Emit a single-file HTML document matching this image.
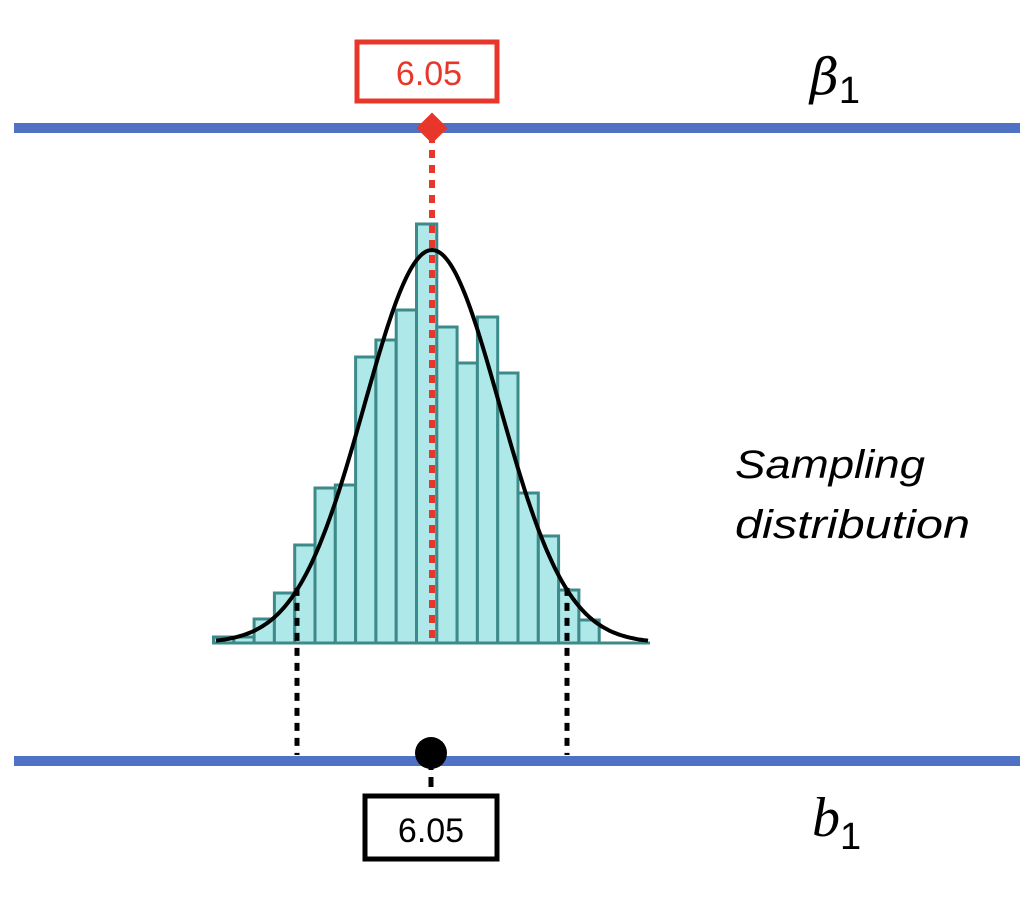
<!DOCTYPE html>
<html><head><meta charset="utf-8"><style>
html,body{margin:0;padding:0;background:#fff;}
svg{display:block;}
</style></head><body>
<svg id="chart" width="1030" height="904" viewBox="0 0 1030 904" xmlns="http://www.w3.org/2000/svg">
  <rect width="1030" height="904" fill="#fff"/>
  <line x1="14" y1="128" x2="1020" y2="128" stroke="#4f72c4" stroke-width="10"/>
  <line x1="14" y1="761" x2="1020" y2="761" stroke="#4f72c4" stroke-width="10"/>
  <g id="bars"></g>
  <path id="curve" fill="none" stroke="#000" stroke-width="4"/>
  <g id="marks"></g>
  <rect x="357" y="42" width="140" height="59" fill="#fff" stroke="#e8372a" stroke-width="5"/>
  <text x="429" y="85" text-anchor="middle" font-family="Liberation Sans, sans-serif" font-size="34" fill="#e8372a">6.05</text>
  <rect x="365" y="796" width="132" height="63" fill="#fff" stroke="#000" stroke-width="5"/>
  <text x="431" y="842" text-anchor="middle" font-family="Liberation Sans, sans-serif" font-size="34" fill="#000">6.05</text>
  <text x="810" y="94" font-family="DejaVu Serif, Liberation Serif, serif" font-style="italic" font-size="50" fill="#000">β<tspan font-style="normal" font-family="Liberation Sans, sans-serif" font-size="38" dy="9">1</tspan></text>
  <text x="812" y="836" font-family="Liberation Serif, serif" font-style="italic" font-size="56" fill="#000">b<tspan font-style="normal" font-family="Liberation Sans, sans-serif" font-size="38" dy="13">1</tspan></text>
  <text x="735" y="478" font-family="Liberation Sans, sans-serif" font-style="italic" font-size="40" textLength="190" lengthAdjust="spacingAndGlyphs">Sampling</text>
  <text x="735" y="538" font-family="Liberation Sans, sans-serif" font-style="italic" font-size="40" textLength="235" lengthAdjust="spacingAndGlyphs">distribution</text>
</svg>
<script>
const binCounts = [6,6,24,50,98,155,158,286,303,333,419,316,280,326,270,150,107,53,23];
const binStart = [0,1,2,3,4,5,6,7,8,9,10,11,12,13,14,15,16,17,18];
const curveMean = 432;
const curveSigma = 67.5;
const curvePeak = 393;
const ciBounds = [-2, 2];

const NS = 'http://www.w3.org/2000/svg';
const x0 = 213.5, bw = 20.3, baseY = 643;
const xScale = b => x0 + b * bw;
const yScale = c => baseY - c;
const bars = document.getElementById('bars');
binCounts.forEach((c, i) => {
  const r = document.createElementNS(NS, 'rect');
  r.setAttribute('x', xScale(binStart[i]));
  r.setAttribute('y', yScale(c));
  r.setAttribute('width', bw);
  r.setAttribute('height', c);
  r.setAttribute('fill', '#aee8e8');
  r.setAttribute('stroke', '#3d8a8a');
  r.setAttribute('stroke-width', '3');
  
  
  bars.appendChild(r);
});
const bl = document.createElementNS(NS, 'line');
bl.setAttribute('x1', 214); bl.setAttribute('x2', 650);
bl.setAttribute('y1', baseY); bl.setAttribute('y2', baseY);
bl.setAttribute('stroke', '#3d8a8a'); bl.setAttribute('stroke-width', '3');


bars.appendChild(bl);

const dens = x => curvePeak * Math.exp(-0.5 * Math.pow((x - curveMean) / curveSigma, 2));
let d = '';
for (let x = 216; x <= 649; x += 2) d += (d ? 'L' : 'M') + x + ',' + (yScale(dens(x))).toFixed(1);
document.getElementById('curve').setAttribute('d', d);

const marks = document.getElementById('marks');
function add(tag, attrs, name) {
  const e = document.createElementNS(NS, tag);
  for (const k in attrs) e.setAttribute(k, attrs[k]);
  
  
  marks.appendChild(e);
  return e;
}
add('line', {x1: curveMean, x2: curveMean, y1: 135, y2: baseY, stroke: '#e8372a', 'stroke-width': 6, 'stroke-dasharray': '8,7'}, 'population-mean-line');
add('rect', {x: curveMean - 11, y: 117, width: 22, height: 22, fill: '#e8372a', transform: 'rotate(45 ' + curveMean + ' 128)'}, 'population-mean-marker');
ciBounds.forEach((k) => {
  const cx = curveMean + k * curveSigma;
  add('line', {x1: cx, x2: cx, y1: yScale(dens(cx)) - 2, y2: 755, stroke: '#000', 'stroke-width': 5, 'stroke-dasharray': '8,7'}, 'interval-bound-line');
});
add('line', {x1: 431, x2: 431, y1: 760, y2: 796, stroke: '#000', 'stroke-width': 5, 'stroke-dasharray': '10,7'}, 'sample-stem');
add('circle', {cx: 431, cy: 753, r: 16, fill: '#000'}, 'sample-estimate-dot');
</script>
</body></html>
